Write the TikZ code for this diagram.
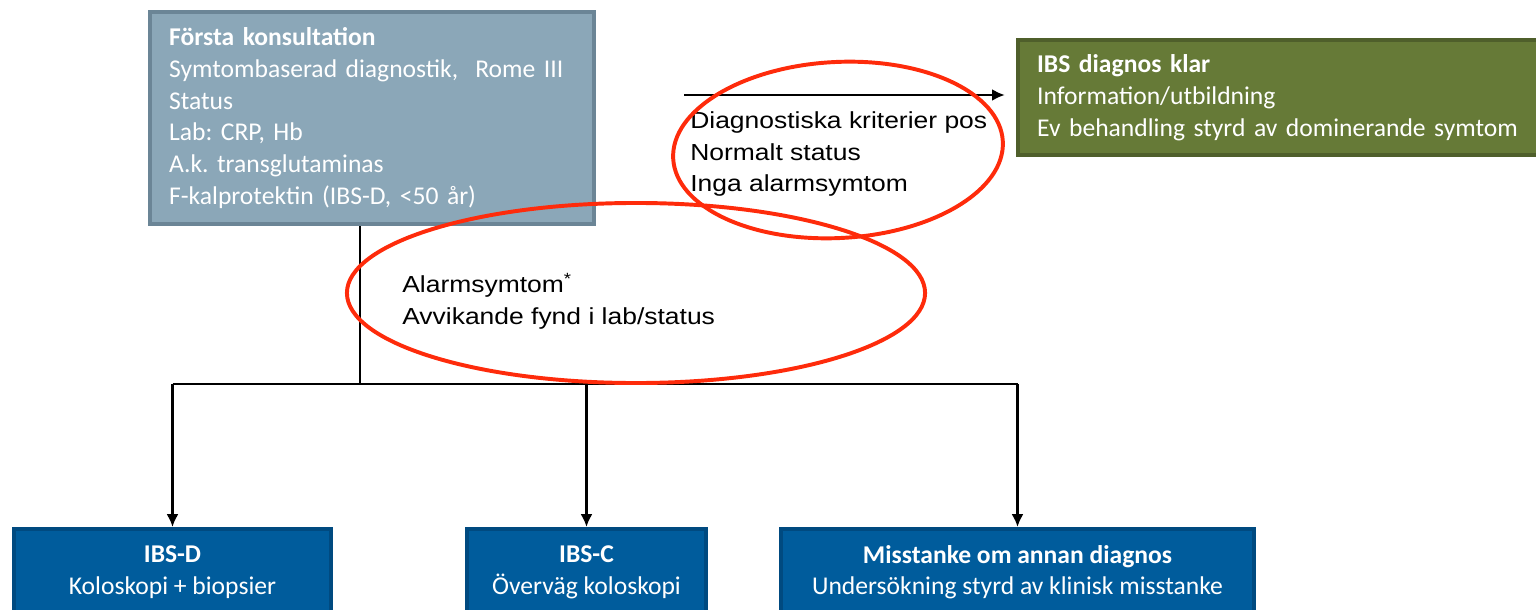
\documentclass[tikz,border=0pt]{standalone}
\usepackage{fontspec}
\setmainfont{Carlito}
\newfontfamily\arialfont[FakeStretch=1.14]{Liberation Sans}
\usetikzlibrary{
    arrows.meta,
    calc,
    positioning
}
\definecolor{consultfill}{HTML}{8BA7B8}
\definecolor{consultline}{HTML}{6B8596}
\definecolor{clearfill}{HTML}{667A37}
\definecolor{clearline}{HTML}{4F5F2B}
\definecolor{routefill}{HTML}{005C9C}
\definecolor{routeline}{HTML}{004A80}
\definecolor{ringred}{HTML}{FE2B0B}
\frenchspacing

\begin{document}
\begin{tikzpicture}[x=0.025cm, y=-0.025cm,
        infobox/.style={draw, line width=3pt, anchor=north west, align=left, text=white,
            inner xsep=0.475cm, inner ysep=0pt, font=\fontsize{18.2}{22.6}\selectfont},
        routebox/.style={draw=routeline, fill=routefill, line width=3pt, anchor=north, align=center,
            text=white, inner sep=0pt, minimum height=2.15cm, font=\fontsize{18.2}{22.6}\selectfont},
        remark/.style={anchor=west, align=left, inner sep=0pt, text=black,
            font=\arialfont\fontsize{16.5}{22.4}\selectfont},
        connector/.style={line width=1.8pt},
        pointer/.style={connector, -{Latex[length=0.32cm, width=0.3cm]}},
        ring/.style={draw=ringred, line width=2.8pt}
    ]
    \useasboundingbox (0, 0) rectangle (1536, 610);
    \clip (0, 0) rectangle (1536, 610);

    % boxes
    \node[infobox, draw=consultline, fill=consultfill, minimum width=11.1cm, minimum height=5.3cm,
        text width=10.15cm] (consult) at (148, 10)
        {\textbf{Första konsultation}\\
        Symtombaserad diagnostik,\ \ Rome III\\
        Status\\
        Lab: CRP, Hb\\
        A.k. transglutaminas\\
        F-kalprotektin (IBS-D, <50 år)};
    \node[infobox, draw=clearline, fill=clearfill, minimum width=13.5cm, minimum height=2.875cm,
        text width=12.55cm] (clear) at (1016, 38)
        {\textbf{IBS diagnos klar}\\
        Information/utbildning\\
        Ev behandling styrd av dominerande symtom};
    \node[routebox, minimum width=7.925cm] (ibsd) at (172.5, 527)
        {\textbf{IBS-D}\\Koloskopi + biopsier};
    \node[routebox, minimum width=5.975cm] (ibsc) at (586.5, 527)
        {\textbf{IBS-C}\\Överväg koloskopi};
    \node[routebox, minimum width=11.825cm] (other) at (1017.5, 527)
        {\textbf{Misstanke om annan diagnos}\\Undersökning styrd av klinisk misstanke};

    % connectors
    \coordinate (split) at (360, 384);
    \coordinate (posstart) at (684, 95);
    \draw[pointer] (posstart) -- ([xshift=-0.28cm]posstart -| clear.west);
    \draw[connector] (consult.south -| split) -- (split);
    \draw[connector] (ibsd.north |- split) -- (other.north |- split);
    \draw[pointer] (ibsd.north |- split) -- (ibsd);
    \draw[pointer] (ibsc.north |- split) -- (ibsc);
    \draw[pointer] (other.north |- split) -- (other);

    % remarks
    \node[remark] (criteria) at (690, 154.5)
        {Diagnostiska kriterier pos\\Normalt status\\Inga alarmsymtom};
    \node[remark] (alarm) at (402, 301)
        {Alarmsymtom\textsuperscript{*}\\Avvikande fynd i lab/status};

    % red rings
    \draw[ring] (838, 150) ellipse [x radius=4.125cm, y radius=2.2cm, rotate=3];
    \draw[ring] (636, 293) ellipse [x radius=7.225cm, y radius=2.25cm];
\end{tikzpicture}
\end{document}
